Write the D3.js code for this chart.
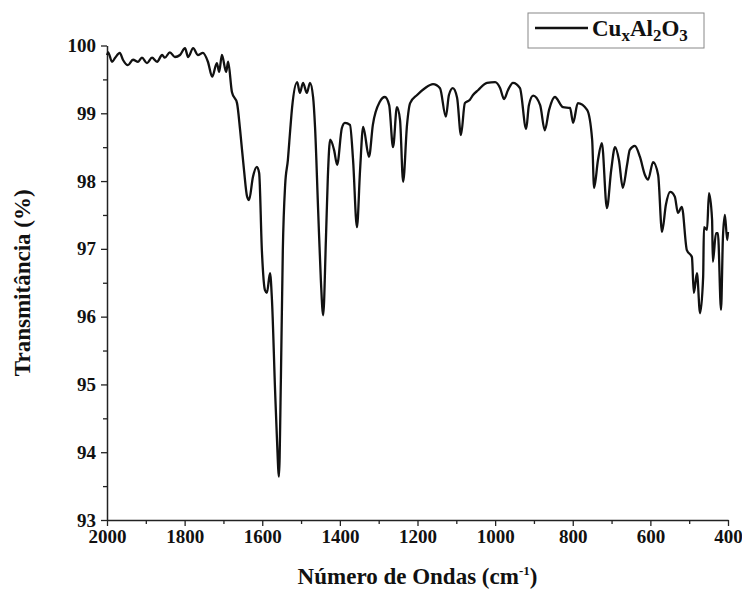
<!DOCTYPE html>
<html>
<head>
<meta charset="utf-8">
<script src="https://cdn.jsdelivr.net/npm/d3@7"></script>
<style>
  body { margin: 0; background: #fff; }
  text { font-family: "Liberation Serif", "Times New Roman", serif; font-weight: bold; fill: #111; }
</style>
</head>
<body>
<script>
// wavenumber (cm-1) and transmittance (%)
var waveNumbers = [2000,1997,1987,1979,1967,1959,1946,1933,1920,1910,1897,1884,1871,1858,1851,1838,1825,1812,1799,1791,
  1778,1766,1753,1740,1729,1717,1711,1704,1693,1688,1678,1665,1657,1647,1639,1634,1624,1614,1608,1601,
  1593,1588,1580,1575,1567,1562,1557,1552,1547,1541,1534,1528,1523,1510,1503,1495,1485,1477,1469,1464,
  1456,1449,1443,1436,1431,1425,1415,1407,1395,1387,1374,1366,1356,1348,1340,1325,1315,1297,1284,1273,
  1263,1253,1245,1237,1227,1219,1201,1181,1160,1142,1127,1119,1109,1098,1088,1078,1065,1057,1044,1021,
  1000,987,977,967,954,936,920,913,902,884,872,861,846,825,807,799,787,763,750,745,
  735,725,712,701,691,681,671,660,653,640,627,614,606,593,580,570,560,549,537,529,
  519,506,493,488,480,472,464,462,454,449,441,439,431,426,418,413,408,402,400];
var transmittance = [99.86,99.90,99.76,99.82,99.89,99.79,99.71,99.79,99.76,99.82,99.74,99.82,99.76,99.86,99.82,99.90,99.83,99.86,99.96,99.83,
  99.96,99.86,99.89,99.76,99.54,99.74,99.61,99.86,99.61,99.76,99.31,99.15,98.75,98.16,97.77,97.72,98.06,98.21,98.12,96.98,
  96.39,96.35,96.64,96.25,94.92,94.18,93.64,95.07,96.98,97.94,98.31,98.75,99.09,99.46,99.30,99.45,99.30,99.45,99.24,98.80,
  97.57,96.54,96.02,97.13,98.06,98.61,98.46,98.24,98.78,98.86,98.83,98.31,97.32,98.16,98.80,98.36,98.83,99.17,99.24,99.12,
  98.50,99.09,98.90,97.99,98.83,99.15,99.27,99.37,99.43,99.37,98.95,99.27,99.37,99.23,98.68,99.15,99.20,99.27,99.34,99.45,
  99.46,99.37,99.21,99.34,99.45,99.37,98.77,99.12,99.26,99.12,98.75,99.05,99.24,99.09,99.08,98.86,99.15,99.05,98.61,97.90,
  98.31,98.56,97.60,98.16,98.50,98.31,97.90,98.24,98.46,98.52,98.36,98.09,98.02,98.28,98.09,97.25,97.65,97.84,97.77,97.53,
  97.62,96.98,96.88,96.35,96.64,96.05,96.59,97.32,97.28,97.82,97.43,96.81,97.23,97.23,96.10,97.18,97.50,97.13,97.25];

var xTicks = [2000,1800,1600,1400,1200,1000,800,600,400];
var yTicks = [93,94,95,96,97,98,99,100];

var width = 742, height = 593;
var plotLeft = 107, plotRight = 728, plotTop = 45.5, plotBottom = 520;

var svg = d3.select("body").append("svg")
            .attr("width", width)
            .attr("height", height);

var x = d3.scaleLinear().domain([2000, 400]).range([plotLeft, plotRight]);
var y = d3.scaleLinear().domain([93, 100]).range([plotBottom, plotTop]);

// minor ticks
var xMinor = d3.range(1900, 400, -200);
var yMinor = d3.range(93.5, 100, 1);

var xAxis = svg.append("g")
               .attr("transform", "translate(0," + plotBottom + ")")
               .call(d3.axisBottom(x).tickValues(xTicks).tickFormat(d3.format("d")).tickSize(6).tickSizeOuter(0).tickPadding(4));
svg.append("g")
   .attr("transform", "translate(0," + plotBottom + ")")
   .call(d3.axisBottom(x).tickValues(xMinor).tickSize(4).tickFormat("").tickSizeOuter(0))
   .select(".domain").remove();

var yAxis = svg.append("g")
               .attr("transform", "translate(" + plotLeft + ",0)")
               .call(d3.axisLeft(y).tickValues(yTicks).tickFormat(d3.format("d")).tickSize(6).tickSizeOuter(0).tickPadding(5));
svg.append("g")
   .attr("transform", "translate(" + plotLeft + ",0)")
   .call(d3.axisLeft(y).tickValues(yMinor).tickSize(4).tickFormat("").tickSizeOuter(0))
   .select(".domain").remove();

svg.selectAll(".domain").attr("stroke", "#222").attr("stroke-width", 1.5);
svg.selectAll(".tick line").attr("stroke", "#222").attr("stroke-width", 1.3);
xAxis.selectAll("text").attr("font-size", 19).attr("font-family", "Liberation Serif").attr("font-weight", "bold").attr("fill", "#111");
yAxis.selectAll("text").attr("font-size", 19).attr("font-family", "Liberation Serif").attr("font-weight", "bold").attr("fill", "#111");

var spectrum = waveNumbers.map(function(d, i) { return [d, transmittance[i]]; });

var line = d3.line()
             .x(function(d) { return x(d[0]); })
             .y(function(d) { return y(d[1]); })
             .curve(d3.curveMonotoneX);

svg.append("path")
   .datum(spectrum)
   .attr("d", line)
   .attr("fill", "none")
   .attr("stroke", "#111")
   .attr("stroke-width", 2.3)
   .attr("stroke-linejoin", "round");

// axis titles
svg.append("text")
   .attr("x", (plotLeft + plotRight) / 2)
   .attr("y", 584)
   .attr("text-anchor", "middle")
   .attr("font-size", 23)
   .html('Número de Ondas (cm<tspan dy="-9" font-size="13">-1</tspan><tspan dy="9">)</tspan>');

svg.append("text")
   .attr("transform", "translate(30," + (plotTop + plotBottom) / 2 + ") rotate(-90)")
   .attr("text-anchor", "middle")
   .attr("font-size", 23)
   .text("Transmitância (%)");

// legend
var legend = svg.append("g");
legend.append("rect")
      .attr("x", 528).attr("y", 13)
      .attr("width", 176).attr("height", 35)
      .attr("fill", "#fff")
      .attr("stroke", "#888")
      .attr("stroke-width", 1);
legend.append("line")
      .attr("x1", 535).attr("x2", 588)
      .attr("y1", 28).attr("y2", 28)
      .attr("stroke", "#111").attr("stroke-width", 2.3);
legend.append("text")
      .attr("x", 592).attr("y", 36)
      .attr("font-size", 23)
      .html('Cu<tspan dy="5" font-size="17">x</tspan><tspan dy="-5">Al</tspan><tspan dy="5" font-size="17">2</tspan><tspan dy="-5">O</tspan><tspan dy="5" font-size="17">3</tspan>');
</script>
</body>
</html>
